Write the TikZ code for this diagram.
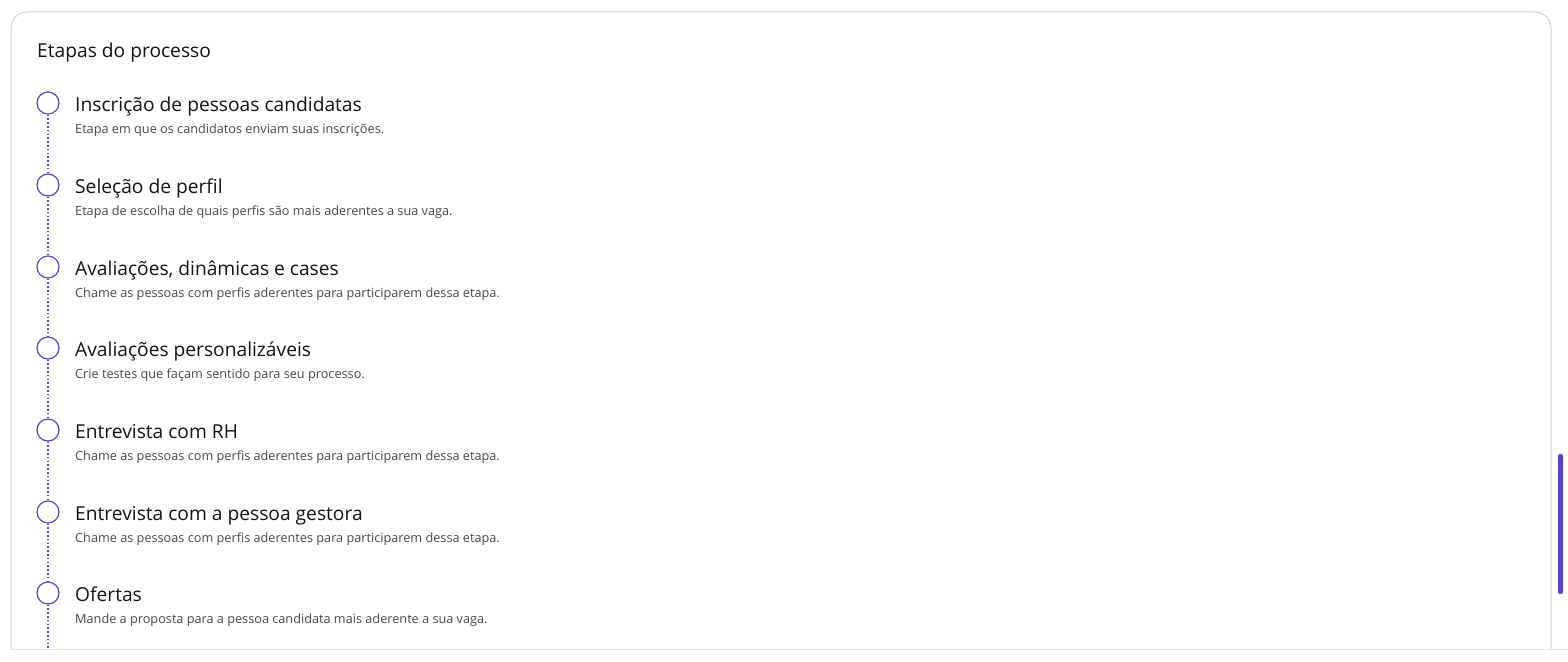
\documentclass[tikz,border=0pt]{standalone}
\usepackage{fontspec}
\setmainfont{Open Sans}
\definecolor{cardborder}{HTML}{D2D2D2}
\definecolor{bottomline}{HTML}{E6E6E6}
\definecolor{accent}{HTML}{5B43CF}
\definecolor{titletext}{HTML}{141414}
\definecolor{desctext}{HTML}{4A4A4A}
\tikzset{
  stepcircle/.style={circle, draw=accent, line width=1.2pt, fill=white, minimum size=22pt, inner sep=0pt},
  steptitle/.style={anchor=base west, inner sep=0pt, text=titletext, font=\fontsize{19.2}{22}\selectfont},
  stepdesc/.style={anchor=base west, inner sep=0pt, text=desctext, font=\fontsize{12.7}{15}\selectfont},
  heading/.style={anchor=base west, inner sep=0pt, text=titletext, font=\fontsize{19.2}{21}\selectfont},
  dotline/.style={accent, line width=1.6pt, dash pattern=on 1.6pt off 2.2pt},
}
\begin{document}
\begin{tikzpicture}[x=1pt,y=-1pt]
\useasboundingbox (0,0) rectangle (1568,661);
\fill[white] (0,0) rectangle (1568,661);
% card
\draw[cardborder, line width=1pt] (11,649) -- (11,28) arc[start angle=180, end angle=270, radius=16] -- (1535,12) arc[start angle=270, end angle=360, radius=16] -- (1551,649);
\draw[bottomline, line width=1pt] (11,649) -- (1568,649);
% scrollbar
\fill[accent, rounded corners=2pt] (1558,454) rectangle (1563,594);
% heading
\node[heading] (head) at (37,57) {Etapas do processo};
% steps
\foreach \i/\y/\t/\d in {
 1/103/{Inscrição de pessoas candidatas}/{Etapa em que os candidatos enviam suas inscrições.},
 2/185/{Seleção de perfil}/{Etapa de escolha de quais perfis são mais aderentes a sua vaga.},
 3/267/{Avaliações, dinâmicas e cases}/{Chame as pessoas com perfis aderentes para participarem dessa etapa.},
 4/348/{Avaliações personalizáveis}/{Crie testes que façam sentido para seu processo.},
 5/430/{Entrevista com RH}/{Chame as pessoas com perfis aderentes para participarem dessa etapa.},
 6/512/{Entrevista com a pessoa gestora}/{Chame as pessoas com perfis aderentes para participarem dessa etapa.},
 7/593/{Ofertas}/{Mande a proposta para a pessoa candidata mais aderente a sua vaga.}}{
  \node[stepcircle] (c\i) at (48,\y) {};
  \node[steptitle] (t\i) at (75,\y+8) {\t};
  \node[stepdesc] (d\i) at (75,\y+30) {\d};
}
\coordinate (cend) at (48,649);
\foreach \a/\b in {1/2,2/3,3/4,4/5,5/6,6/7}{
  \draw[dotline] (c\a.south) -- (c\b.north);
}
\draw[dotline] (c7.south) -- (cend);
\end{tikzpicture}
\end{document}
